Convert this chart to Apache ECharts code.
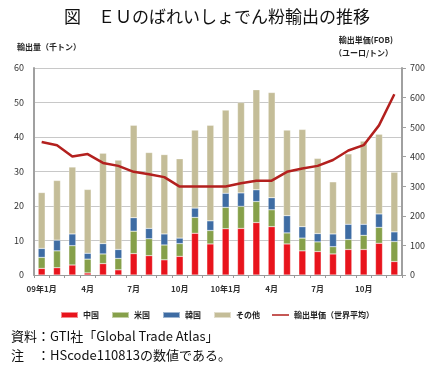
<!DOCTYPE html>
<html><head><meta charset="utf-8">
<script src="https://cdn.jsdelivr.net/npm/echarts@6/dist/echarts.min.js"></script>
<style>html,body{margin:0;padding:0;background:#fff}#c{width:434px;height:367px}</style>
</head><body><div id="c"></div>
<script>
const months = ['09年1月','2月','3月','4月','5月','6月','7月','8月','9月','10月','11月','12月',
  '10年1月','2月','3月','4月','5月','6月','7月','8月','9月','10月','11月','12月'];
const china = [1.9,2.1,2.9,0.6,3.3,1.5,6.2,5.6,4.4,5.4,12.1,9.0, 13.4,13.5,15.2,14.0,9.0,7.0,6.8,6.1,7.4,7.4,9.2,3.9];
const usa   = [3.2,4.9,5.6,4.0,2.8,3.3,6.5,4.9,4.3,3.7,4.6,3.9, 6.2,6.4,6.1,4.9,3.2,3.7,2.8,2.1,2.9,4.1,4.6,5.8];
const korea = [2.6,3.1,3.4,1.7,3.0,2.6,3.9,3.0,3.2,1.6,2.7,2.8, 4.1,3.9,3.4,3.5,5.0,3.3,2.4,3.7,4.4,3.2,3.9,2.8];
const other = [16.2,17.3,19.4,18.5,26.2,25.9,26.8,22.0,23.0,23.0,22.6,27.7, 24.1,26.2,29.0,30.5,24.8,28.2,21.8,15.1,20.4,24.1,23.1,17.3];
const price = [450,439,401,409,379,369,349,341,331,299,299,299, 299,310,319,319,349,360,369,389,421,439,506,611];
const seriesNames = ['中国','米国','韓国','その他','輸出単価（世界平均）'];
const colors = ['#E8141C','#86A04A','#3E6CA3','#C4BD98','#B3201E'];

const chart = echarts.init(document.getElementById('c'), null, {renderer:'canvas'});
const ff = '"Noto Sans CJK JP","Noto Sans",sans-serif';
function bar(i, data){
  return {name: seriesNames[i], type:'bar', stack:'t', data, barWidth:7,
    itemStyle:{color: colors[i], borderColor:'rgba(255,255,255,0.5)', borderWidth:0.5}, z:2};
}
chart.setOption({
  animation:false,
  textStyle:{fontFamily:ff},
  title:[
    {text:'図　ＥＵのばれいしょでん粉輸出の推移', left:'center', top:3,
      textStyle:{fontSize:17, fontWeight:'normal', color:'#111', fontFamily:ff}},
    {text:'輸出量（千トン）', left:12, top:38, textStyle:{fontSize:8, fontWeight:'bold', color:'#222', fontFamily:ff}},
    {text:'輸出単価(FOB)', right:36, top:31, textStyle:{fontSize:8, fontWeight:'bold', color:'#222', fontFamily:ff}},
    {text:'（ユーロ/トン）', right:36, top:44, textStyle:{fontSize:8, fontWeight:'bold', color:'#222', fontFamily:ff}},
    {text:'資料：GTI社「Global Trade Atlas」', left:6, top:325, textStyle:{fontSize:13, fontWeight:'normal', color:'#111', fontFamily:ff}},
    {text:'注　：HScode110813の数値である。', left:6, top:344, textStyle:{fontSize:13, fontWeight:'normal', color:'#111', fontFamily:ff}}
  ],
  legend:{
    top:306, left:'center', itemGap:12, itemWidth:17, itemHeight:6,
    textStyle:{fontSize:8, fontWeight:'bold', color:'#222', fontFamily:ff},
    data:[
      {name:'中国', icon:'rect'},{name:'米国', icon:'rect'},{name:'韓国', icon:'rect'},{name:'その他', icon:'rect'},
      {name:'輸出単価（世界平均）', icon:'path://M0,0 L0,0.01 M0,2 L20,2 L20,4 L0,4 Z M0,6 L0,6.01'}
    ]
  },
  grid:{left:34, right:32, top:68, bottom:92},
  xAxis:{type:'category', data:months,
    axisLine:{lineStyle:{color:'#999', width:1}},
    axisTick:{show:true, interval:0, length:3, lineStyle:{color:'#999'}},
    axisLabel:{interval:0, fontSize:8, fontWeight:'bold', color:'#333', margin:10,
      formatter:(v,i)=> (i%3===0 ? v : '')}
  },
  yAxis:[
    {type:'value', min:0, max:60, interval:10,
      axisLine:{show:true, lineStyle:{color:'#A0A0A0', width:2}},
      axisTick:{show:false},
      splitLine:{lineStyle:{color:'#C8C8C8', width:1}},
      axisLabel:{fontSize:9, color:'#333', margin:10}},
    {type:'value', min:0, max:700, interval:100,
      axisLine:{show:true, lineStyle:{color:'#A0A0A0', width:2}},
      axisTick:{show:true, length:4, lineStyle:{color:'#A0A0A0'}},
      splitLine:{show:false},
      axisLabel:{fontSize:9, color:'#333', margin:8}}
  ],
  series:[
    bar(0, china), bar(1, usa), bar(2, korea), bar(3, other),
    {name:seriesNames[4], type:'line', yAxisIndex:1, data:price, symbol:'none', showSymbol:false,
      lineStyle:{color:colors[4], width:2.5}, itemStyle:{color:colors[4]}, z:5}
  ]
});
</script></body></html>
